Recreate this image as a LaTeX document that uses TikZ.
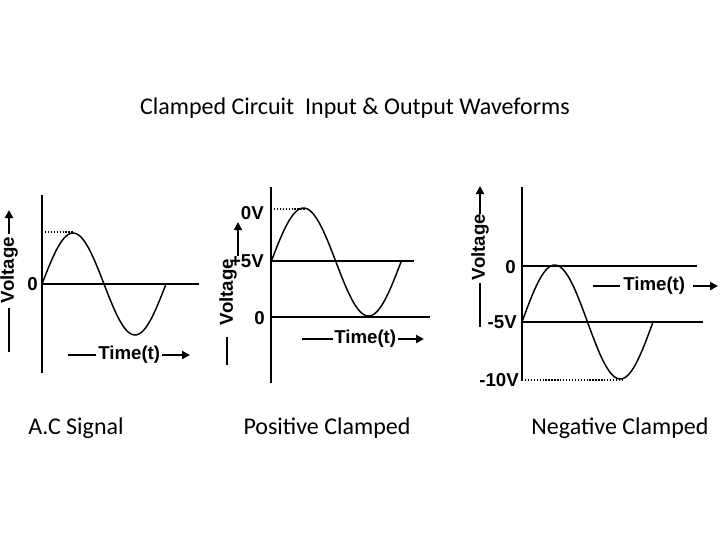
\documentclass[tikz,border=0pt]{standalone}
\usepackage{fontspec}
\setmainfont{Carlito}
\newfontfamily\wf{Liberation Sans}
\usetikzlibrary{arrows.meta}
\begin{document}
\begin{tikzpicture}[x=0.75pt,y=-0.75pt,
  axis/.style={line width=2.2pt},
  wave/.style={line width=1.1pt},
  dots/.style={line width=1.4pt, dash pattern=on 1pt off 1.2pt},
  vol/.style={-{Triangle[length=6pt,width=6pt]}, line width=1.5pt},
  dsh/.style={line width=2pt},
  lbl/.style={font=\wf\bfseries\fontsize{14}{14}\selectfont, inner sep=0},
  capt/.style={font=\fontsize{18}{18}\selectfont, inner sep=0}]
\useasboundingbox (0,0) rectangle (720,540);
% title
\node[capt] (title) at (355,108) {Clamped Circuit\ \ Input \& Output Waveforms};
\node[capt] (c1) at (76,428) {A.C Signal};
\node[capt] (c2) at (327,428) {Positive Clamped};
\node[capt] (c3) at (620,428) {Negative Clamped};

% ---------- panel 1
\coordinate (a1t) at (42,195); \coordinate (a1b) at (42,373);
\coordinate (a1o) at (42,284); \coordinate (a1r) at (199,284);
\draw[axis] (a1t) -- (a1b);
\draw[axis] (a1o) -- (a1r);
\draw[wave] plot[domain=0:360,samples=73] ({42+\x/360*124},{284-51*sin(\x)});
\coordinate (p1a) at (42,232); \coordinate (p1b) at (73,232);
\draw[dots] (p1a) -- (p1b);
\node[lbl,anchor=east] (z1) at (38,284) {0};
\node[lbl,rotate=90] (v1) at (9,270) {Voltage};
\coordinate (v1d1) at (9,308); \coordinate (v1d2) at (9,352);
\draw[dsh] (v1d1) -- (v1d2);
\coordinate (v1a1) at (9,234); \coordinate (v1a2) at (9,210);
\draw[vol] (v1a1) -- (v1a2);
\coordinate (t1d1) at (68,355); \coordinate (t1d2) at (96,355);
\draw[dsh] (t1d1) -- (t1d2);
\node[lbl,anchor=west] (t1) at (98,355) {Time(t)};
\coordinate (t1a1) at (162,355); \coordinate (t1a2) at (190,355);
\draw[vol] (t1a1) -- (t1a2);

% ---------- panel 2
\coordinate (a2t) at (271,187); \coordinate (a2b) at (271,383);
\draw[axis] (a2t) -- (a2b);
\coordinate (a2m) at (271,261); \coordinate (a2mr) at (414,261);
\draw[axis] (a2m) -- (a2mr);
\coordinate (a2o) at (271,317); \coordinate (a2r) at (430,317);
\draw[axis] (a2o) -- (a2r);
\draw[wave] plot[domain=0:360,samples=73] ({271+\x/360*130},{262-54*sin(\x)});
\coordinate (p2a) at (271,209); \coordinate (p2b) at (305,209);
\draw[dots] (p2a) -- (p2b);
\node[lbl,anchor=east] (l2a) at (264,213) {0V};
\node[lbl,anchor=east] (l2b) at (264,261) {+5V};
\node[lbl,anchor=east] (l2c) at (265,318) {0};
\node[lbl,rotate=90] (v2) at (228,292) {Voltage};
\coordinate (v2a1) at (238,256); \coordinate (v2a2) at (238,222);
\draw[vol,line width=1.2pt] (v2a1) -- (v2a2);
\coordinate (v2d1) at (227,337); \coordinate (v2d2) at (227,365);
\draw[dsh] (v2d1) -- (v2d2);
\coordinate (t2d1) at (302,339); \coordinate (t2d2) at (333,339);
\draw[dsh] (t2d1) -- (t2d2);
\node[lbl,anchor=west] (t2) at (334,339) {Time(t)};
\coordinate (t2a1) at (398,339); \coordinate (t2a2) at (424,339);
\draw[vol] (t2a1) -- (t2a2);

% ---------- panel 3
\coordinate (a3t) at (522,187); \coordinate (a3b) at (522,381);
\draw[axis] (a3t) -- (a3b);
\coordinate (a3o) at (522,266); \coordinate (a3or) at (697,266);
\draw[axis] (a3o) -- (a3or);
\coordinate (a3m) at (522,322); \coordinate (a3mr) at (703,322);
\draw[axis] (a3m) -- (a3mr);
\coordinate (p3a) at (522,380); \coordinate (p3b) at (622,380);
\draw[dots] (p3a) -- (p3b);
\draw[wave] plot[domain=0:360,samples=73] ({522+\x/360*131},{322-57*sin(\x)});
\node[lbl,anchor=east] (l3a) at (516,267) {0};
\node[lbl,anchor=east] (l3b) at (517,322) {-5V};
\node[lbl,anchor=east] (l3c) at (519,380) {-10V};
\node[lbl,rotate=90] (v3) at (480,247) {Voltage};
\coordinate (v3d1) at (480,283); \coordinate (v3d2) at (480,327);
\draw[dsh] (v3d1) -- (v3d2);
\coordinate (v3a1) at (480,214); \coordinate (v3a2) at (480,186);
\draw[vol] (v3a1) -- (v3a2);
\coordinate (t3d1) at (593,286); \coordinate (t3d2) at (620,286);
\draw[dsh] (t3d1) -- (t3d2);
\node[lbl,anchor=west] (t3) at (623,286) {Time(t)};
\coordinate (t3a1) at (693,286); \coordinate (t3a2) at (718,286);
\draw[vol] (t3a1) -- (t3a2);
\end{tikzpicture}
\end{document}
